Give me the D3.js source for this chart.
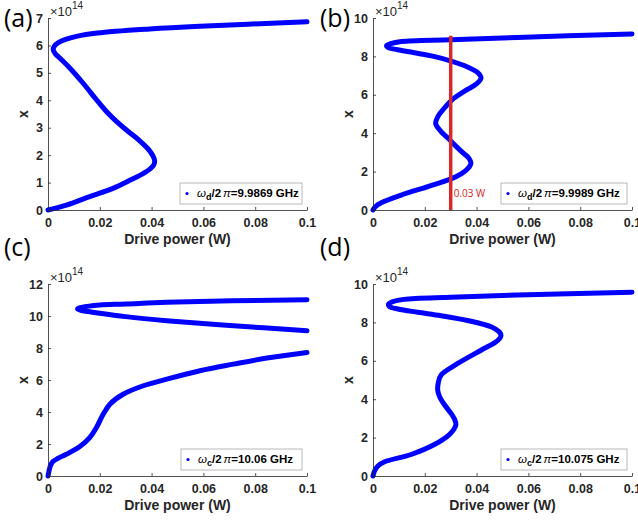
<!DOCTYPE html>
<html>
<head>
<meta charset="utf-8">
<script src="https://cdn.jsdelivr.net/npm/d3@7"></script>
<style>
  body { margin: 0; background: #fff; }
  svg { display: block; }
</style>
</head>
<body>
<script>
// amplitude x in units of 1e14, drive power in W
aAmp   = [0, 0.18, 0.49, 0.79, 1.10, 1.30, 1.48, 1.62, 1.77, 1.92, 2.08, 2.25, 2.56, 2.90, 3.25, 3.62, 4.02, 4.63, 5.18, 5.48, 5.70, 5.85, 5.97, 6.10, 6.22, 6.33, 6.45, 6.60, 6.70, 6.86]
aPower = [0, 0.0071, 0.0161, 0.0251, 0.0320, 0.0362, 0.0392, 0.0407, 0.0412, 0.0408, 0.0398, 0.0384, 0.0350, 0.0305, 0.0262, 0.0223, 0.0187, 0.0135, 0.0084, 0.0052, 0.0028, 0.0020, 0.0024, 0.0040, 0.0068, 0.0110, 0.0190, 0.0393, 0.0586, 0.1]

bAmp   = [0, 0.17, 0.38, 0.78, 1.22, 1.62, 1.90, 2.15, 2.43, 2.70, 2.95, 3.30, 3.74, 4.10, 4.50, 4.90, 5.30, 5.74, 6.20, 6.55, 6.87, 7.15, 7.45, 7.74, 8.00, 8.20, 8.35, 8.45, 8.55, 8.66, 8.78, 8.87, 8.99, 9.17]
bPower = [0, 0.0009, 0.0032, 0.0109, 0.0212, 0.0301, 0.0342, 0.0366, 0.0378, 0.0370, 0.0350, 0.0322, 0.0290, 0.0262, 0.0242, 0.0252, 0.0275, 0.0305, 0.0355, 0.0398, 0.0417, 0.0405, 0.0365, 0.0305, 0.0235, 0.0155, 0.0095, 0.0060, 0.0052, 0.0068, 0.0110, 0.0300, 0.0558, 0.1]

cAmp   = [0, 0.31, 0.63, 0.90, 1.11, 1.36, 1.84, 2.40, 3.03, 3.86, 4.49, 5.11, 5.64, 6.05, 6.58, 6.99, 7.37, 7.72]
cPower = [0, 0.0004, 0.0009, 0.0019, 0.0039, 0.0071, 0.0123, 0.0161, 0.0187, 0.0213, 0.0239, 0.029, 0.0368, 0.0458, 0.0587, 0.0716, 0.0845, 0.1]
cUpAmp   = [9.08, 9.39, 9.71, 9.96, 10.17, 10.28, 10.36, 10.44, 10.52, 10.60, 10.69, 10.75, 10.86, 11.02]
cUpPower = [0.1, 0.0716, 0.0458, 0.030, 0.020, 0.0155, 0.0126, 0.0114, 0.0125, 0.0152, 0.020, 0.030, 0.0458, 0.1]

dAmp   = [0, 0.26, 0.52, 0.74, 1.12, 1.64, 2.16, 2.45, 2.67, 2.92, 3.19, 3.71, 4.10, 4.45, 4.85, 5.26, 5.86, 6.55, 6.98, 7.18, 7.33, 7.50, 7.76, 8.10, 8.35, 8.53, 8.70, 8.83, 8.95, 9.08, 9.20, 9.31, 9.43, 9.57]
dPower = [0, 0.0006, 0.0019, 0.0045, 0.0147, 0.0237, 0.0295, 0.0313, 0.032, 0.0316, 0.0305, 0.0276, 0.0258, 0.0250, 0.0252, 0.0263, 0.0327, 0.0417, 0.0474, 0.0490, 0.0494, 0.0488, 0.0458, 0.0365, 0.0263, 0.0173, 0.0096, 0.0063, 0.0060, 0.0077, 0.0120, 0.0301, 0.0558, 0.1]

xTicks = [0, 0.02, 0.04, 0.06, 0.08, 0.1]
xTickLabels = ["0", "0.02", "0.04", "0.06", "0.08", "0.1"]

markerPower = 0.03
markerTop = 9.08

panels = [
  {id: "(a)", x0: 48, x1: 307, yTop: 18, yBot: 210, ymax: 7, step: 1, sub: "d", freq: "9.9869 GHz", legW: 122,
   curves: [[aPower, aAmp]]},
  {id: "(b)", x0: 373, x1: 632, yTop: 18, yBot: 210, ymax: 10, step: 2, sub: "d", freq: "9.9989 GHz", legW: 126,
   curves: [[bPower, bAmp]]},
  {id: "(c)", x0: 48, x1: 307, yTop: 284, yBot: 476, ymax: 12, step: 2, sub: "c", freq: "10.06 GHz", legW: 121,
   curves: [[cPower, cAmp], [cUpPower, cUpAmp]]},
  {id: "(d)", x0: 373, x1: 632, yTop: 284, yBot: 476, ymax: 10, step: 2, sub: "c", freq: "10.075 GHz", legW: 126,
   curves: [[dPower, dAmp]]}
]

var axisColor = "#262626"
var font = "'Liberation Sans', Arial, sans-serif"

var svg = d3.select("body").append("svg")
  .attr("width", 638)
  .attr("height", 520)

panels.forEach(function(p, k) {
  var x = d3.scaleLinear().domain([0, 0.1]).range([p.x0, p.x1])
  var y = d3.scaleLinear().domain([0, p.ymax]).range([p.yBot, p.yTop])
  var g = svg.append("g")

  // curves
  var line = d3.line().x(d => x(d[0])).y(d => y(d[1])).curve(d3.curveCatmullRom.alpha(0.5))
  p.curves.forEach(function(c) {
    var pts = c[0].map((v, i) => [v, c[1][i]])
    g.append("path")
      .attr("d", line(pts))
      .attr("fill", "none")
      .attr("stroke", "#0000ff")
      .attr("stroke-width", 5)
      .attr("stroke-linecap", "round")
      .attr("stroke-linejoin", "round")
  })

  // red marker line in (b)
  if (k == 1) {
    g.append("line")
      .attr("x1", x(markerPower)).attr("x2", x(markerPower))
      .attr("y1", y(markerTop)).attr("y2", y(0))
      .attr("stroke", "#d8282c")
      .attr("stroke-width", 3.5)
    g.append("text")
      .attr("x", x(markerPower) + 3)
      .attr("y", y(0.68))
      .attr("font-family", "'Open Sans', sans-serif")
      .attr("font-size", 10)
      .attr("fill", "#e02020")
      .text("0.03 W")
  }

  // axes
  var yTicks = d3.range(0, p.ymax + 0.001, p.step)
  var xAxis = d3.axisBottom(x).tickValues(xTicks).tickFormat((d, i) => xTickLabels[i]).tickSizeInner(-3).tickSizeOuter(0).tickPadding(8)
  var yAxis = d3.axisLeft(y).tickValues(yTicks).tickFormat(d3.format("d")).tickSizeInner(-3).tickSizeOuter(0).tickPadding(5)

  g.append("g").attr("transform", `translate(0,${p.yBot})`).call(xAxis)
  g.append("g").attr("transform", `translate(${p.x0},0)`).call(yAxis)
  g.selectAll(".domain, .tick line").attr("stroke", axisColor).attr("stroke-width", 0.8)
  g.selectAll(".tick text")
    .attr("font-family", font)
    .attr("font-weight", "bold")
    .attr("font-size", 12.5)
    .attr("fill", axisColor)

  // exponent label
  var ex = g.append("text")
    .attr("x", p.x0 + 2)
    .attr("y", p.yTop - 2)
    .attr("font-family", font)
    .attr("font-size", 13)
    .attr("fill", axisColor)
  ex.append("tspan").text("\u00d710")
  ex.append("tspan").attr("dy", -7).attr("font-size", 10).text("14")

  // axis labels
  g.append("text")
    .attr("x", (p.x0 + p.x1) / 2)
    .attr("y", p.yBot + 34)
    .attr("text-anchor", "middle")
    .attr("font-family", font)
    .attr("font-weight", "bold")
    .attr("font-size", 14)
    .attr("fill", axisColor)
    .text("Drive power (W)")
  g.append("text")
    .attr("transform", `translate(${p.x0 - 20},${(p.yTop + p.yBot) / 2}) rotate(-90)`)
    .attr("text-anchor", "middle")
    .attr("font-family", font)
    .attr("font-weight", "bold")
    .attr("font-size", 14)
    .attr("fill", axisColor)
    .text("x")

  // legend
  var lx = p.x1 - 5 - p.legW, ly = p.yBot - 27
  var leg = g.append("g").attr("transform", `translate(${lx},${ly})`)
  leg.append("rect")
    .attr("width", p.legW).attr("height", 21)
    .attr("fill", "#fff")
    .attr("stroke", "#a8a8a8")
    .attr("stroke-width", 0.8)
  leg.append("circle").attr("cx", 7).attr("cy", 10.5).attr("r", 1.6).attr("fill", "#0000ff")
  var lt = leg.append("text")
    .attr("x", 17).attr("y", 14)
    .attr("font-family", font)
    .attr("font-weight", "bold")
    .attr("font-size", 11.5)
    .attr("fill", "#000")
  lt.append("tspan").attr("font-style", "italic").attr("font-weight", "normal").text("\u03c9")
  lt.append("tspan").attr("dy", 3).attr("font-size", 9).text(p.sub)
  lt.append("tspan").attr("dy", -3).text("/2")
  lt.append("tspan").attr("font-style", "italic").attr("font-weight", "normal").attr("dx", 2).text("\u03c0")
  lt.append("tspan").text("=" + p.freq)

  // panel letter
  svg.append("text")
    .attr("x", k % 2 == 0 ? 4 : 320)
    .attr("y", k < 2 ? 27 : 256)
    .attr("font-family", "'Open Sans', sans-serif")
    .attr("font-size", 25)
    .attr("fill", "#000")
    .text(p.id)
})
</script>
</body>
</html>
